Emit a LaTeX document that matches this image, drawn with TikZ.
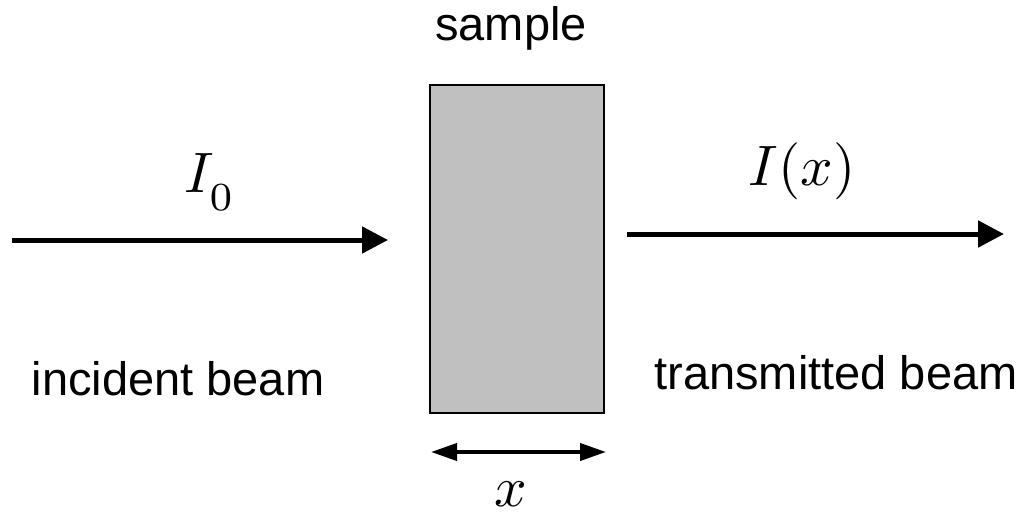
\documentclass[tikz,border=0pt]{standalone}
\usepackage{fontspec}
\setsansfont{Liberation Sans}
\usetikzlibrary{arrows.meta}
\definecolor{samplegray}{HTML}{C0C0C0}
\begin{document}
\begin{tikzpicture}[x=1pt,y=-1pt,
  label/.style={font=\sffamily, scale=4.7, anchor=base, inner sep=0pt},
  mathlabel/.style={scale=5.7, anchor=base, inner sep=0pt},
  beam/.style={line width=5pt, -{Triangle[length=26pt,width=26pt]}},
  thick arrow/.style={line width=4pt, {Triangle[length=26pt,width=17pt]}-{Triangle[length=26pt,width=17pt]}}]
\useasboundingbox (0,0) rectangle (1028,516);
% sample
\node[draw=black, line width=2pt, fill=samplegray, minimum width=174pt, minimum height=327pt, inner sep=0pt] (box) at (516.5,249) {};
\node[label] (samplelbl) at (511,41) {sample};
% incident beam
\coordinate (inA) at (12,240);
\coordinate (inB) at (388,240);
\draw[beam] (inA) -- (inB);
\node[mathlabel] (I0) at (210,193) {$I_{\lower0.16em\hbox{$\textstyle\scriptstyle 0$}}$};
\node[label] (inclbl) at (178,395) {incident beam};
% transmitted beam
\coordinate (outA) at (627,234);
\coordinate (outB) at (1004,234);
\draw[beam] (outA) -- (outB);
\node[mathlabel] (Ix) at (802,185) {$I(x)$};
\node[label] (translbl) at (836,389) {transmitted beam};
% thickness
\coordinate (dA) at (431,452);
\coordinate (dB) at (606,452);
\draw[thick arrow] (dA) -- (dB);
\node[mathlabel] (xl) at (511,506) {$x$};
\end{tikzpicture}
\end{document}
